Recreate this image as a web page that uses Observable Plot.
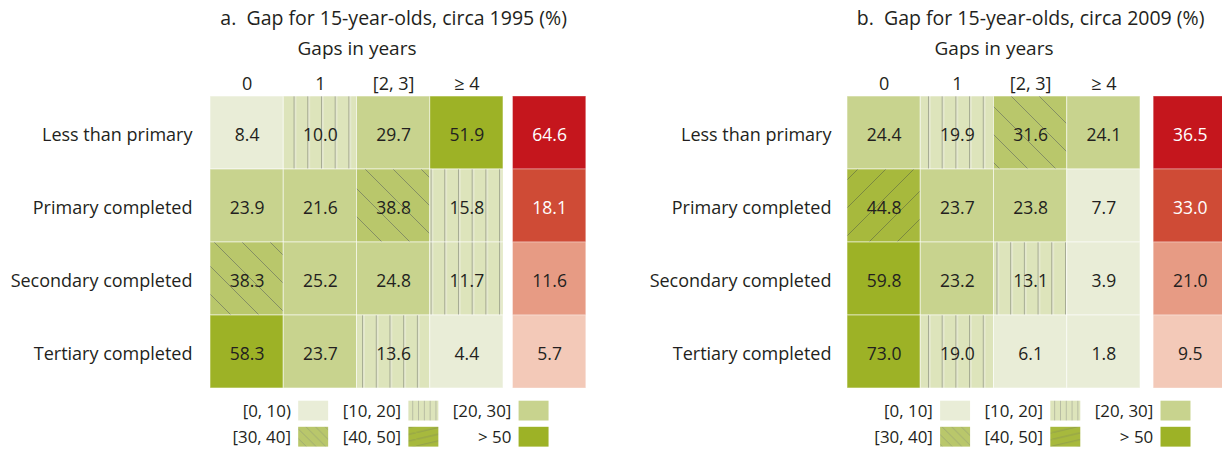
<!DOCTYPE html>
<html><head><meta charset="utf-8">
<script src="https://cdn.jsdelivr.net/npm/d3@7"></script>
<script src="https://cdn.jsdelivr.net/npm/@observablehq/plot@0.6"></script>
<style>
html,body{margin:0;padding:0;overflow:hidden;background:#fff;}
#wrap{display:flex;flex-direction:row;width:1222px;height:450px;overflow:hidden;}
.panel{display:flex;flex-direction:column;flex:none;}
svg{display:block;}
</style></head><body>
<svg id="defs" width="0" height="0" style="position:absolute;left:0;top:0">
<defs>
  <pattern id="pV" patternUnits="userSpaceOnUse" width="13.7" height="20">
    <rect width="13.7" height="20" fill="#dde4bb"/>
    <rect x="6" y="0" width="1.2" height="20" fill="#9da18b"/>
    <rect x="7.2" y="0" width="1" height="20" fill="#f3f5e6"/>
  </pattern>
  <pattern id="pB" patternUnits="userSpaceOnUse" width="28" height="28">
    <rect width="28" height="28" fill="#b9c76b"/>
    <path d="M0,0L28,28M-3,25L3,31M25,-3L31,3" stroke="#858f63" stroke-width="1"/>
  </pattern>
  <pattern id="pF" patternUnits="userSpaceOnUse" width="28" height="28">
    <rect width="28" height="28" fill="#a7b93d"/>
    <path d="M0,28L28,0M-3,3L3,-3M25,31L31,25" stroke="#7b8940" stroke-width="1"/>
  </pattern>
  <pattern id="lV" patternUnits="userSpaceOnUse" width="6" height="20">
    <rect width="6" height="20" fill="#dde4bb"/>
    <rect x="2" y="0" width="0.8" height="20" fill="#aeb29c"/>
  </pattern>
  <pattern id="lB" patternUnits="userSpaceOnUse" width="10" height="10">
    <rect width="10" height="10" fill="#b9c76b"/>
    <path d="M0,0L10,10M-2,8L2,12M8,-2L12,2" stroke="#98a274" stroke-width="0.8"/>
  </pattern>
  <pattern id="lF" patternUnits="userSpaceOnUse" width="30" height="7">
    <rect width="30" height="7" fill="#a7b93d"/>
    <path d="M0,7L30,0M-30,7L0,0M30,7L60,0" stroke="#8a9750" stroke-width="0.8"/>
  </pattern>
</defs>
</svg>
<div id="wrap"></div>
<script>
// ---------- data ----------
const levels = ["Less than primary", "Primary completed", "Secondary completed", "Tertiary completed"];
const gapColumns = ["0", "1", "[2, 3]", "≥ 4"];

// rows follow `levels`, columns follow `gapColumns`
const gaps1995 = [
  [8.4, 10.0, 29.7, 51.9],
  [23.9, 21.6, 38.8, 15.8],
  [38.3, 25.2, 24.8, 11.7],
  [58.3, 23.7, 13.6, 4.4]
];
const shares1995 = [64.6, 18.1, 11.6, 5.7];

const gaps2009 = [
  [24.4, 19.9, 31.6, 24.1],
  [44.8, 23.7, 23.8, 7.7],
  [59.8, 23.2, 13.1, 3.9],
  [73.0, 19.0, 6.1, 1.8]
];
const shares2009 = [36.5, 33.0, 21.0, 9.5];

const legendLabels1995 = ["[0, 10)", "[10, 20]", "[20, 30]", "[30, 40]", "[40, 50]", "> 50"];
const legendLabels2009 = ["[0, 10]", "[10, 20]", "[20, 30]", "[30, 40]", "[40, 50]", "> 50"];

const title1995 = "a.\u00a0 Gap for 15-year-olds, circa 1995 (%)";
const title2009 = "b.\u00a0 Gap for 15-year-olds, circa 2009 (%)";
const subtitle = "Gaps in years";

// ---------- styles ----------
const FONT = "'Open Sans', sans-serif";
const INK = "#231f20";
const classFills = ["#e9edd7", "url(#pV)", "#c8d38e", "url(#pB)", "url(#pF)", "#9db226"];
const legendFills = ["#e9edd7", "url(#lV)", "#c8d38e", "url(#lB)", "url(#lF)", "#9db226"];
const redFills = ["#c5161d", "#cf4b36", "#e79b84", "#f3c9b8"];
const redInk = ["#ffffff", "#ffffff", INK, INK];

function classOf(v) {
  if (v < 10) return 0;
  if (v < 20) return 1;
  if (v < 30) return 2;
  if (v < 40) return 3;
  if (v <= 50) return 4;
  return 5;
}

function panel(cfg) {
  const cells = [];
  cfg.gaps.forEach((row, r) => row.forEach((value, c) => {
    cells.push({level: levels[r], col: c, value, fill: classFills[classOf(value)]});
  }));
  const shares = cfg.shares.map((value, r) => ({level: levels[r], value, fill: redFills[r], ink: redInk[r]}));

  const main = Plot.plot({
    width: cfg.width,
    height: 392,
    marginTop: 96,
    marginBottom: 4,
    marginLeft: cfg.marginLeft,
    marginRight: cfg.width - cfg.marginLeft - 293,
    x: {type: "linear", domain: [0, 4], axis: null},
    y: {type: "band", domain: levels, padding: 0, axis: null},
    color: {type: "identity"},
    style: {fontFamily: FONT, background: "transparent", overflow: "visible"},
    marks: [
      Plot.barX(cells, {x1: d => d.col, x2: d => d.col + 1, y: "level", fill: "fill",
        stroke: "#ffffff", strokeOpacity: 0.55, strokeWidth: 1}),
      Plot.barX(shares, {x1: () => 4 + cfg.redGap, x2: () => 5 + cfg.redGap, y: "level", fill: "fill",
        stroke: "#ffffff", strokeOpacity: 0.35, strokeWidth: 1}),
      Plot.text(cells, {x: d => d.col + 0.5, y: "level", text: d => d.value.toFixed(1),
        fontSize: 17.5, fill: INK, dy: 2}),
      Plot.text(shares, {x: () => 4.5 + cfg.redGap, y: "level", text: d => d.value.toFixed(1),
        fontSize: 17.5, fill: "ink", dy: 2}),
      Plot.text(levels, {y: d => d, frameAnchor: "left", dx: cfg.labelDx, dy: 2, textAnchor: "end",
        fontSize: 18, fill: INK}),
      Plot.text(gapColumns, {x: (d, i) => i + 0.5, frameAnchor: "top", lineAnchor: "middle", dy: -12,
        fontSize: 18, fill: INK}),
      Plot.text([subtitle], {x: () => 2, frameAnchor: "top", lineAnchor: "middle", dy: -48,
        fontSize: 19, fill: INK}),
      Plot.text([cfg.title], {x: () => 2.5, frameAnchor: "top", lineAnchor: "middle", dy: -78,
        fontSize: 19.5, fill: INK})
    ]
  });

  const entries = cfg.legendLabels.map((label, i) => ({label, col: i % 3, row: Math.floor(i / 3), fill: legendFills[i]}));
  const legend = Plot.plot({
    width: cfg.width,
    height: 60,
    marginTop: 5,
    marginBottom: 0,
    marginLeft: cfg.legendLeft,
    marginRight: cfg.legendRight,
    x: {type: "band", domain: [0, 1, 2], padding: 0, axis: null},
    y: {type: "band", domain: [0, 1], padding: 0, axis: null},
    color: {type: "identity"},
    style: {fontFamily: FONT, background: "transparent"},
    marks: [
      Plot.cell(entries, {x: "col", y: "row", fill: "fill", insetLeft: 83, insetTop: 3, insetBottom: 3.5}),
      Plot.text(entries, {x: "col", y: "row", text: "label", textAnchor: "end", dx: 18, fontSize: 17.5, fill: INK})
    ]
  });

  const div = document.createElement("div");
  div.className = "panel";
  div.style.width = cfg.width + "px";
  div.appendChild(main);
  div.appendChild(legend);
  return div;
}

const wrap = document.getElementById("wrap");
wrap.appendChild(panel({
  title: title1995, gaps: gaps1995, shares: shares1995, legendLabels: legendLabels1995,
  width: 607, marginLeft: 210, redGap: 0.13, labelDx: -18, legendLeft: 215, legendRight: 50
}));
wrap.appendChild(panel({
  title: title2009, gaps: gaps2009, shares: shares2009, legendLabels: legendLabels2009,
  width: 615, marginLeft: 240, redGap: 0.18, labelDx: -16, legendLeft: 251, legendRight: 22
}));
</script>
</body></html>
